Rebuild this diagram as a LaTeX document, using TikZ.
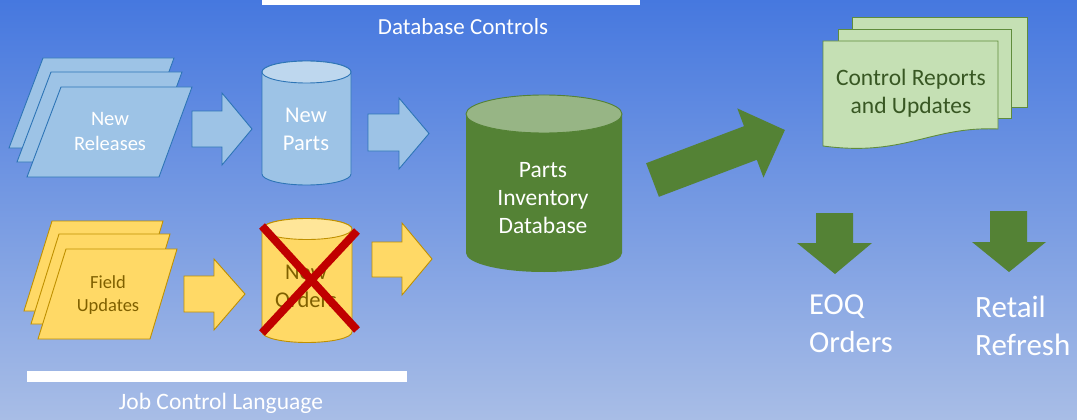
\documentclass[tikz,border=0pt]{standalone}
\usepackage{fontspec}
\setmainfont{Carlito}
\definecolor{bgtop}{RGB}{70,120,223}
\definecolor{bgbot}{RGB}{168,189,230}
\definecolor{bluefill}{RGB}{157,195,230}
\definecolor{bluetop}{RGB}{190,215,238}
\definecolor{bluedraw}{RGB}{46,117,182}
\definecolor{yelfill}{RGB}{255,217,102}
\definecolor{yeltop}{RGB}{255,230,153}
\definecolor{yeldraw}{RGB}{191,144,0}
\definecolor{yeltext}{RGB}{127,96,0}
\definecolor{grn}{RGB}{84,130,53}
\definecolor{grntop}{RGB}{151,181,133}
\definecolor{paper}{RGB}{197,224,180}
\definecolor{paperdraw}{RGB}{96,140,60}
\definecolor{papertext}{RGB}{56,87,35}
\definecolor{cross}{RGB}{192,0,0}
\tikzset{
  bluebox/.style={fill=bluefill, draw=bluedraw, line width=0.9pt, line join=miter},
  yelbox/.style={fill=yelfill, draw=yeldraw, line width=0.9pt, line join=miter},
  grnbox/.style={fill=grn, draw=none},
  paperbox/.style={fill=paper, draw=paperdraw, line width=0.9pt},
  lbl/.style={align=center, inner sep=0pt},
}
\begin{document}
\begin{tikzpicture}[x=1pt, y=-1pt]
% canvas and background
\useasboundingbox (0,0) rectangle (1077,420);
\shade[top color=bgtop, bottom color=bgbot] (0,0) rectangle (1077,420);

% bars with captions
\fill[white] (262,-2) rectangle (640,5);
\node[lbl, text=white, font=\fontsize{23}{27}\selectfont] (dbc) at (463,27) {Database Controls};
\fill[white] (27,371) rectangle (407,382);
\node[lbl, text=white, font=\fontsize{23.5}{27}\selectfont] (jcl) at (221,403) {Job Control Language};

% New Releases: stacked input sheets
\foreach \dx/\dy in {-18/-29, -10/-15, 0/0}
  \draw[bluebox, shift={(\dx,\dy)}] (61,87) -- (192,87) -- (159,177) -- (27,177) -- cycle;
\node[lbl, text=white, font=\fontsize{20.5}{25}\selectfont] (rel) at (110,131) {New\\Releases};

% arrow to New Parts
\draw[bluebox] (192,111) -- (222,111) -- (222,93) -- (252,129) -- (222,165) -- (222,147) -- (192,147) -- cycle;

% New Parts drum
\draw[bluebox] (262,72) -- (262,174) arc[start angle=180, end angle=360, x radius=44.5pt, y radius=11pt]
  -- (351,72) arc[start angle=0, end angle=180, x radius=44.5pt, y radius=11pt] -- cycle;
\draw[bluebox, fill=bluetop] (306.5,72) ellipse[x radius=44.5pt, y radius=11pt];
\node[lbl, text=white, font=\fontsize{22.5}{28}\selectfont] (parts) at (306,129) {New\\Parts};

% arrow toward the database
\draw[bluebox] (368,114) -- (399,114) -- (399,98) -- (429,133.5) -- (399,169) -- (399,151) -- (368,151) -- cycle;

% Field Updates: stacked input sheets
\foreach \dx/\dy in {-14/-28, -7/-15, 0/0}
  \draw[yelbox, shift={(\dx,\dy)}] (66,249) -- (177,249) -- (150,339) -- (38,339) -- cycle;
\node[lbl, text=yeltext, font=\fontsize{18.5}{23}\selectfont] (field) at (108,295) {Field\\Updates};

% arrow to New Orders
\draw[yelbox] (184,276) -- (214,276) -- (214,259) -- (245,294) -- (214,330) -- (214,312) -- (184,312) -- cycle;

% New Orders drum, struck out
\draw[yelbox] (262,229) -- (262,332) arc[start angle=180, end angle=360, x radius=45pt, y radius=10.5pt]
  -- (352,229) arc[start angle=0, end angle=180, x radius=45pt, y radius=10.5pt] -- cycle;
\draw[yelbox, fill=yeltop] (307,229) ellipse[x radius=45pt, y radius=10.5pt];
\node[lbl, text=yeltext, font=\fontsize{22.5}{28}\selectfont] (orders) at (306,286) {New\\Orders};
\draw[cross, line width=8pt] (262,226) -- (357,330);
\draw[cross, line width=8pt] (357,231) -- (262,333);

% arrow toward the database
\draw[yelbox] (372,242) -- (402,242) -- (402,223) -- (432,259) -- (402,295) -- (402,277) -- (372,277) -- cycle;

% Parts Inventory Database drum
\fill[grn] (466,114) -- (466,253) arc[start angle=180, end angle=360, x radius=78pt, y radius=19pt]
  -- (622,114) arc[start angle=0, end angle=180, x radius=78pt, y radius=19pt] -- cycle;
\draw[fill=grntop, draw=grn, line width=0.9pt] (544,114) ellipse[x radius=78pt, y radius=19pt];
\node[lbl, text=white, font=\fontsize{23.5}{28}\selectfont] (pidb) at (543,198) {Parts\\Inventory\\Database};

% output arrow to the reports
\fill[grn] (646.1,163.2) -- (744,126.2) -- (737.3,108.4) -- (784.9,130) -- (763.5,177.6) -- (756.8,159.8) -- (658.9,196.8) -- cycle;

% Control Reports and Updates: stacked documents
\draw[paperbox] (852,17) rectangle (1027,107);
\draw[paperbox] (838,29) rectangle (1011,118);
\draw[paperbox] (823,41) -- (998,41) -- (998,129) .. controls (930,126) and (905,157) .. (823,146) -- cycle;
\node[lbl, text=papertext, font=\fontsize{23.5}{28}\selectfont] (rep) at (911,93) {Control Reports\\and Updates};

% downstream results
\fill[grn] (816,213) -- (853,213) -- (853,243) -- (872,243) -- (835,274) -- (797,243) -- (816,243) -- cycle;
\node[anchor=west, align=left, inner sep=0pt, text=white, font=\fontsize{30.5}{38}\selectfont] (eoq) at (809,324) {EOQ\\Orders};
\fill[grn] (990,211) -- (1027,211) -- (1027,242) -- (1046,242) -- (1009,272) -- (972,242) -- (990,242) -- cycle;
\node[anchor=west, align=left, inner sep=0pt, text=white, font=\fontsize{31}{38}\selectfont] (retail) at (975,326) {Retail\\Refresh};
\end{tikzpicture}
\end{document}
